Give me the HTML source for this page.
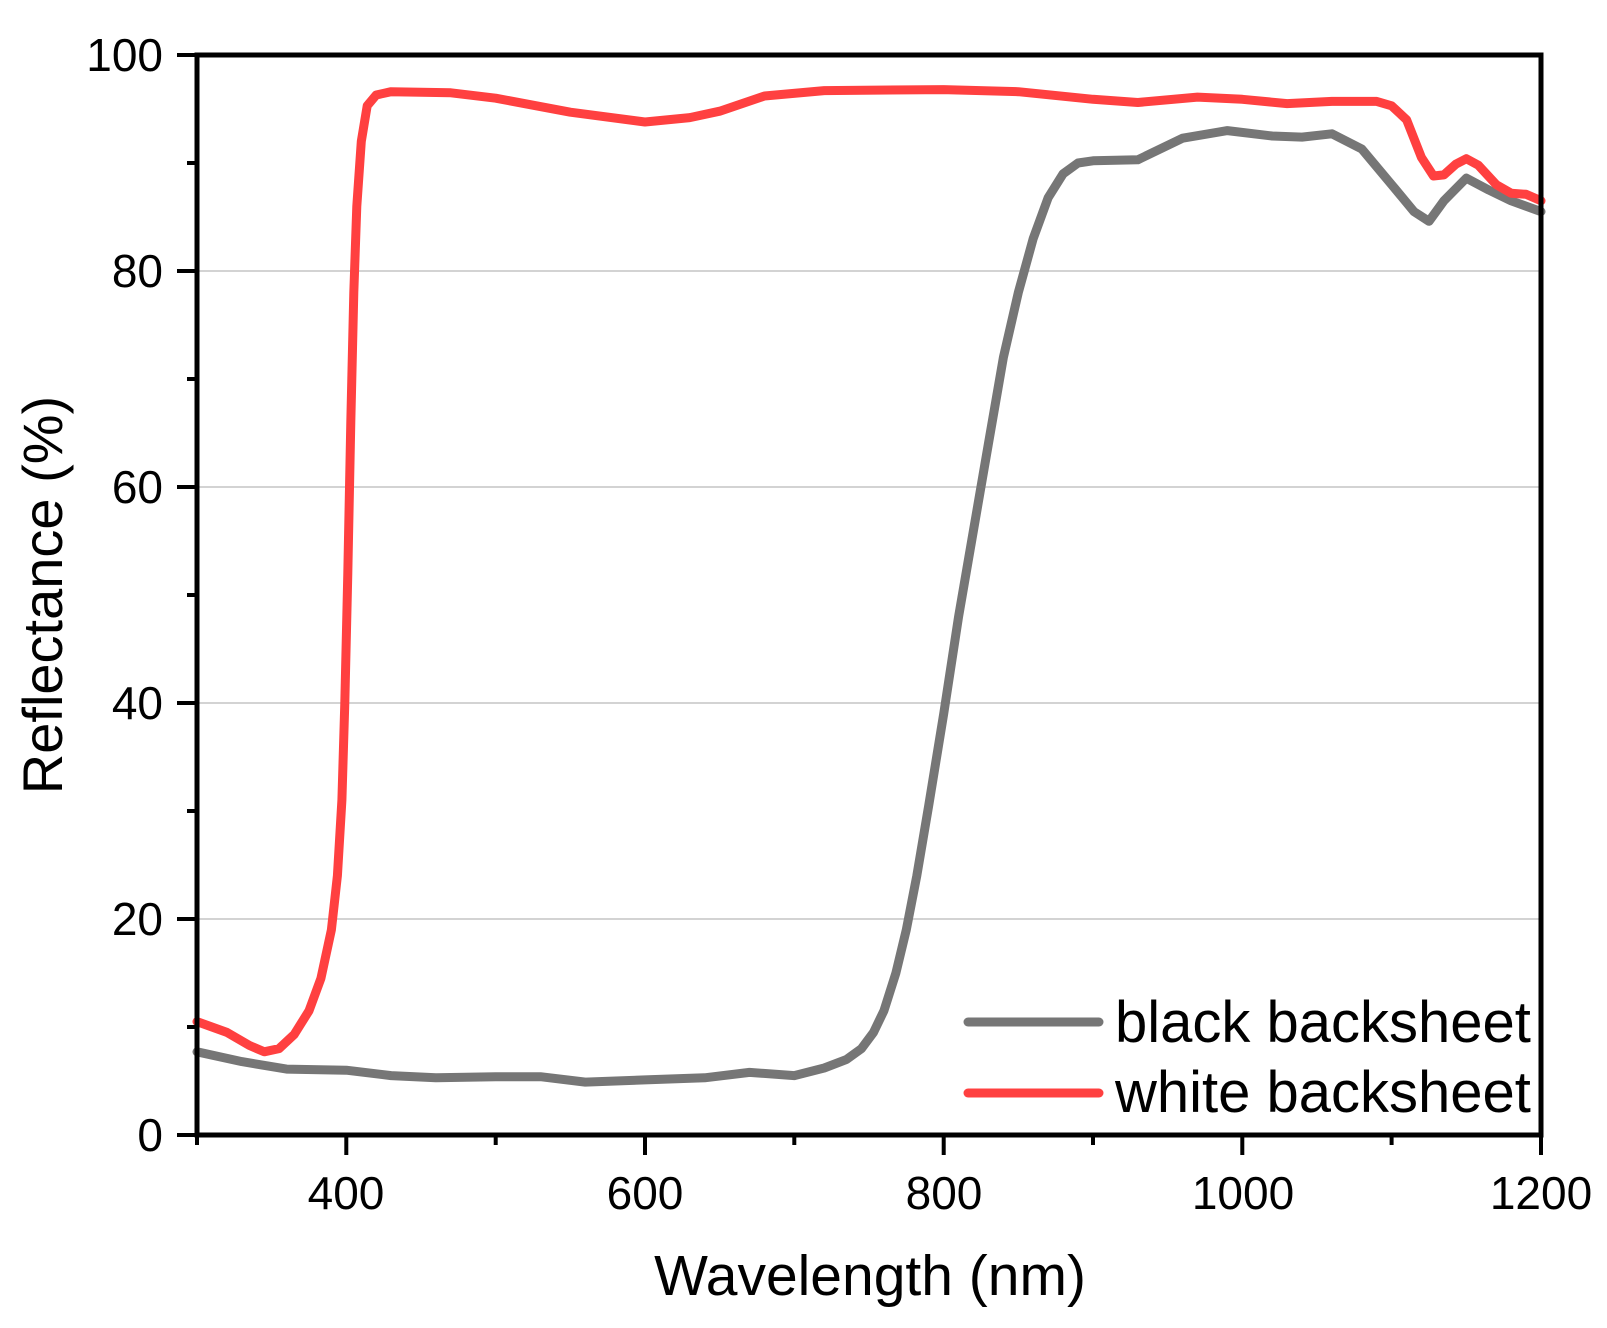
<!DOCTYPE html>
<html><head><style>html,body{margin:0;padding:0;background:#fff}</style></head><body>
<svg width="1607" height="1323" viewBox="0 0 1607 1323" xmlns="http://www.w3.org/2000/svg" font-family="Liberation Sans, Arial, sans-serif">
<g stroke="#d3d3d3" stroke-width="2">
<line x1="197" y1="919" x2="1541" y2="919"/>
<line x1="197" y1="703" x2="1541" y2="703"/>
<line x1="197" y1="487" x2="1541" y2="487"/>
<line x1="197" y1="271" x2="1541" y2="271"/>
</g>
<g fill="none" stroke-linejoin="round" stroke-linecap="round" stroke-width="9">
<polyline id="gray" stroke="#767676" points=""/>
<polyline id="red" stroke="#ff4040" points=""/>
</g>
<g stroke="#000" stroke-width="5" fill="none">
<rect x="197" y="55" width="1344" height="1080"/>
</g>
<g stroke="#000" stroke-width="4">
<line x1="197" y1="1135" x2="197" y2="1145"/>
<line x1="346.3" y1="1135" x2="346.3" y2="1155"/>
<line x1="495.7" y1="1135" x2="495.7" y2="1145"/>
<line x1="645" y1="1135" x2="645" y2="1155"/>
<line x1="794.3" y1="1135" x2="794.3" y2="1145"/>
<line x1="943.7" y1="1135" x2="943.7" y2="1155"/>
<line x1="1093" y1="1135" x2="1093" y2="1145"/>
<line x1="1242.3" y1="1135" x2="1242.3" y2="1155"/>
<line x1="1391.6" y1="1135" x2="1391.6" y2="1145"/>
<line x1="1541" y1="1135" x2="1541" y2="1155"/>
<line x1="177" y1="1135" x2="197" y2="1135"/>
<line x1="187" y1="1027" x2="197" y2="1027"/>
<line x1="177" y1="919" x2="197" y2="919"/>
<line x1="187" y1="811" x2="197" y2="811"/>
<line x1="177" y1="703" x2="197" y2="703"/>
<line x1="187" y1="595" x2="197" y2="595"/>
<line x1="177" y1="487" x2="197" y2="487"/>
<line x1="187" y1="379" x2="197" y2="379"/>
<line x1="177" y1="271" x2="197" y2="271"/>
<line x1="187" y1="163" x2="197" y2="163"/>
<line x1="177" y1="55" x2="197" y2="55"/>
</g>
<g font-size="46" fill="#000" text-anchor="middle">
<text x="346" y="1209">400</text><text x="645" y="1209">600</text><text x="944" y="1209">800</text><text x="1243" y="1209">1000</text><text x="1541" y="1209">1200</text>
</g>
<g font-size="46" fill="#000" text-anchor="end">
<text x="163" y="1151">0</text><text x="163" y="935">20</text><text x="163" y="719">40</text><text x="163" y="503">60</text><text x="163" y="287">80</text><text x="163" y="71">100</text>
</g>
<text x="870" y="1295" font-size="57" text-anchor="middle">Wavelength (nm)</text>
<text transform="translate(62,595) rotate(-90)" font-size="56" text-anchor="middle">Reflectance (%)</text>
<line x1="968" y1="1022" x2="1099" y2="1022" stroke="#767676" stroke-width="9" stroke-linecap="round"/>
<line x1="968" y1="1093" x2="1099" y2="1093" stroke="#ff4040" stroke-width="9" stroke-linecap="round"/>
<text x="1115" y="1042" font-size="58">black backsheet</text>
<text x="1115" y="1112" font-size="58">white backsheet</text>
<script>
const X=w=>197+(w-300)*1.4933, Y=r=>1135-r*10.8;
const red=[[300,10.5],[320,9.5],[335,8.3],[345,7.7],[355,8.0],[365,9.3],[375,11.5],[383,14.5],[390,19],[394,24],[397,31],[399,40],[401,52],[403,66],[405,78],[407,86],[410,92],[414,95.3],[420,96.3],[430,96.6],[470,96.5],[500,96],[550,94.7],[600,93.8],[630,94.2],[650,94.8],[680,96.2],[720,96.7],[800,96.8],[850,96.6],[900,95.9],[930,95.6],[970,96.1],[1000,95.9],[1030,95.5],[1060,95.7],[1090,95.7],[1100,95.3],[1110,94],[1120,90.5],[1128,88.8],[1135,88.9],[1143,89.9],[1150,90.4],[1158,89.8],[1170,88],[1180,87.2],[1190,87.1],[1200,86.5]];
const gray=[[300,7.7],[330,6.8],[360,6.1],[400,6.0],[430,5.5],[460,5.3],[500,5.4],[530,5.4],[560,4.9],[600,5.1],[640,5.3],[670,5.8],[700,5.5],[720,6.2],[735,7.0],[745,8.0],[753,9.5],[760,11.5],[768,15],[775,19],[782,24],[790,30.5],[800,39],[810,48],[820,56],[830,64],[840,72],[850,78],[860,83],[870,86.8],[880,89],[890,90],[900,90.2],[930,90.3],[960,92.3],[990,93],[1020,92.5],[1040,92.4],[1060,92.7],[1080,91.3],[1100,88],[1115,85.5],[1125,84.6],[1135,86.5],[1150,88.6],[1165,87.5],[1180,86.5],[1200,85.5]];
const p=a=>a.map(d=>X(d[0]).toFixed(1)+','+Y(d[1]).toFixed(1)).join(' ');
document.getElementById('red').setAttribute('points',p(red));
document.getElementById('gray').setAttribute('points',p(gray));
</script>
</svg>
</body></html>
